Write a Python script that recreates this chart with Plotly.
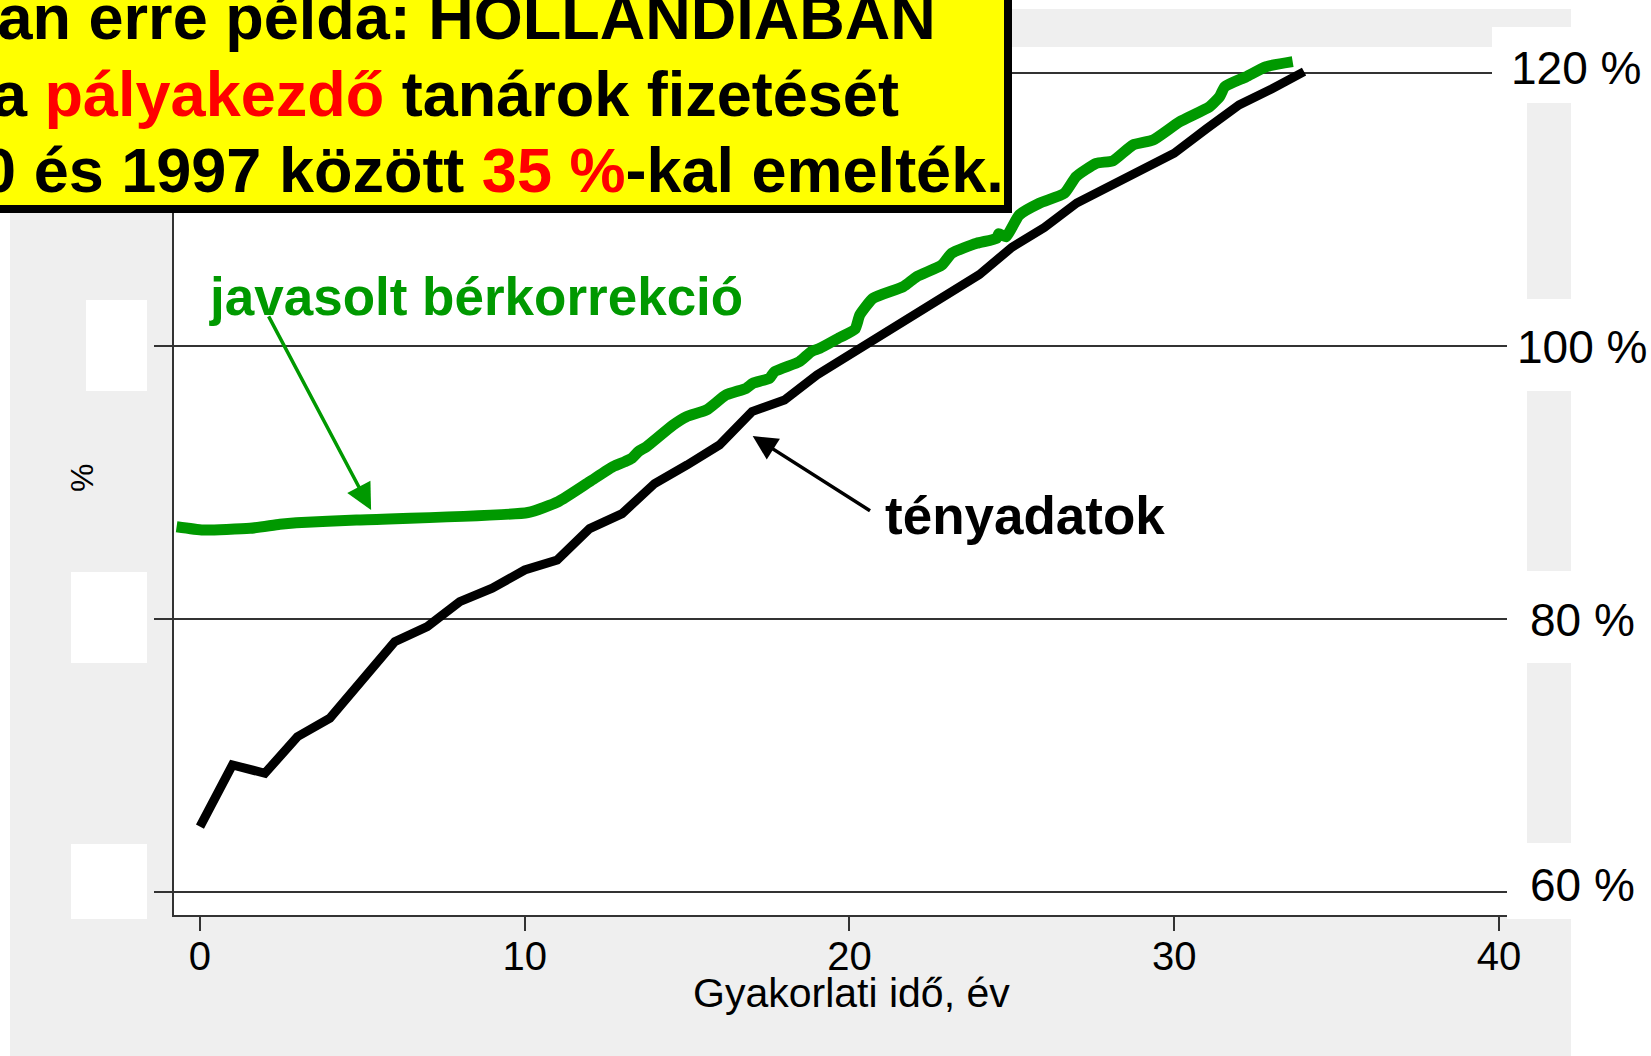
import plotly.graph_objects as go

# ---------------- data ----------------
years = list(range(0, 35))
actual_pct = [64.77, 69.29, 68.68, 71.36, 72.71, 75.51, 78.32, 79.42, 81.25, 82.23,
              83.57, 84.30, 86.60, 87.70, 89.90, 91.26, 92.73, 95.17, 96.02, 97.85,
              99.32, 100.85, 102.30, 103.60, 105.20, 107.20, 108.65, 110.45, 111.65, 112.95,
              114.09, 115.90, 117.63, 118.80, 120.07]

proposed_x = [-0.72, 0.1, 1.54, 2.46, 2.97, 4.82, 10.1, 11.03, 12.0, 12.72,
              13.08, 13.3, 13.5, 13.75, 14.57, 14.98, 15.6, 16.2, 16.82, 17.03,
              17.54, 17.69, 18.46, 18.82, 19.09, 19.7, 20.17, 20.32, 20.73, 21.66,
              22.07, 22.84, 23.15, 23.92, 24.53, 24.6, 24.82, 25.23, 25.85, 26.62,
              26.98, 27.6, 28.12, 28.73, 29.35, 30.17, 31.09, 31.4, 31.56, 32.22,
              32.83, 33.65]
proposed_pct = [86.74, 86.50, 86.62, 86.92, 87.03, 87.23, 87.78, 88.57, 90.04, 91.14,
                91.50, 91.75, 92.24, 92.60, 94.19, 94.80, 95.29, 96.39, 96.88, 97.25,
                97.61, 98.09, 98.83, 99.56, 99.81, 100.60, 101.20, 102.25, 103.47, 104.32,
                105.05, 105.90, 106.77, 107.50, 107.86, 108.20, 107.98, 109.57, 110.43, 111.16,
                112.38, 113.35, 113.55, 114.70, 115.06, 116.40, 117.50, 118.24, 118.97, 119.70,
                120.43, 120.80]

x_ticks = [0, 10, 20, 30, 40]
y_ticks = [60, 80, 100, 120]
y_tick_labels = ["60 %", "80 %", "100 %", "120 %"]

x_title = "Gyakorlati idő, év"
y_title = "%"
label_proposed = "javasolt bérkorrekció"
label_actual = "tényadatok"

# ---------------- layout geometry (pixels) ----------------
W, H = 1651, 1056
L, R, T, B = 174, 144, 47, 141
PW, PH = W - L - R, H - T - B


def px(x):
    return (x - L) / PW


def py(y):
    return (H - B - y) / PH


FONT = "Liberation Sans, Arial, Helvetica, sans-serif"
GREEN = "#009900"
GRAY = "#efefef"
AX = "#333333"

fig = go.Figure()
fig.add_trace(go.Scatter(x=years, y=actual_pct, mode="lines",
                         line=dict(color="black", width=9), showlegend=False))
fig.add_trace(go.Scatter(x=proposed_x, y=proposed_pct, mode="lines",
                         line=dict(color=GREEN, width=11, shape="spline", smoothing=0.5),
                         showlegend=False))

shapes = []


def rect(x0, y0, x1, y1, color, layer="below"):
    shapes.append(dict(type="rect", xref="paper", yref="paper",
                       x0=px(x0), x1=px(x1), y0=py(y1), y1=py(y0),
                       fillcolor=color, layer=layer, line=dict(width=0)))


# outer gray frame
rect(10, 9, 1571, 1060, GRAY)
# plot region
rect(174, 47, 1527, 915, "white")
# right label boxes
rect(1492, 27, 1660, 103, "white", layer="above")
rect(1507, 299, 1660, 391, "white")
rect(1507, 571, 1660, 663, "white")
rect(1507, 843, 1660, 919, "white")
# left (empty) label boxes
rect(86, 300, 147, 391, "white")
rect(71, 572, 147, 663, "white")
rect(71, 844, 147, 919, "white")
# yellow text box (above everything)
rect(-20, -20, 1012, 213, "black", layer="above")
rect(-20, -20, 1004, 205, "#ffff00", layer="above")

ann = []
# right-side y tick labels
label_pos = {120: (1576, 68), 100: (1582, 347), 80: (1582, 620), 60: (1582, 885)}
for v, t in zip(y_ticks, y_tick_labels):
    lx, ly = label_pos[v]
    ann.append(dict(xref="paper", yref="paper", x=px(lx), y=py(ly),
                    text=t, showarrow=False, xanchor="center", yanchor="middle",
                    font=dict(family=FONT, size=46, color="black")))
# axis titles
ann.append(dict(xref="paper", yref="paper", x=px(851), y=py(993), text=x_title,
                showarrow=False, xanchor="center", yanchor="middle",
                font=dict(family=FONT, size=41, color="black")))
ann.append(dict(xref="paper", yref="paper", x=px(82), y=py(478), text=y_title,
                showarrow=False, xanchor="center", yanchor="middle", textangle=-90,
                font=dict(family=FONT, size=32, color="black")))
# series labels
ann.append(dict(xref="paper", yref="paper", x=px(207), y=py(296), text="<b>" + label_proposed + "</b>",
                showarrow=False, xanchor="left", yanchor="middle",
                font=dict(family=FONT, size=53, color=GREEN)))
ann.append(dict(xref="paper", yref="paper", x=px(883), y=py(515), text="<b>" + label_actual + "</b>",
                showarrow=False, xanchor="left", yanchor="middle",
                font=dict(family=FONT, size=53, color="black")))
# arrows
ann.append(dict(xref="x", yref="y", axref="x", ayref="y", x=5.27, y=87.96, ax=2.09, ay=102.26,
                text="", showarrow=True, arrowhead=2, arrowsize=1.5, arrowwidth=3.5,
                arrowcolor=GREEN))
ann.append(dict(xref="x", yref="y", axref="x", ayref="y", x=17.02, y=93.38, ax=20.68, ay=87.84,
                text="", showarrow=True, arrowhead=2, arrowsize=1.4, arrowwidth=3.5,
                arrowcolor="black"))
# yellow box text
RED = "#ff0000"
box_lines = [
    (938, 17, "<b>Van erre példa: HOLLANDIÁBAN</b>"),
    (901, 94, "<b>a <span style='color:%s'>pályakezdő</span> tanárok fizetését</b>" % RED),
    (1006, 170, "<b>1990 és 1997 között <span style='color:%s'>35 %%</span>-kal emelték.</b>" % RED),
]
for xr, yc, t in box_lines:
    ann.append(dict(xref="paper", yref="paper", x=px(xr), y=py(yc), text=t,
                    showarrow=False, xanchor="right", yanchor="middle",
                    font=dict(family=FONT, size=63, color="black")))

fig.update_layout(
    width=W, height=H,
    margin=dict(l=L, r=R, t=T, b=B, pad=0),
    paper_bgcolor="white", plot_bgcolor="rgba(0,0,0,0)",
    shapes=shapes, annotations=ann, showlegend=False,
    xaxis=dict(range=[-0.8, 40.25], tickvals=x_ticks, ticks="outside", ticklen=14,
               tickwidth=2, tickcolor=AX, showline=True, linecolor=AX, linewidth=2,
               showgrid=False, zeroline=False, ticklabelstandoff=-9,
               tickfont=dict(family=FONT, size=40, color="black")),
    yaxis=dict(range=[58.3, 121.875], tickvals=y_ticks, showticklabels=False,
               ticks="outside", ticklen=18, tickwidth=2, tickcolor=AX,
               showline=True, linecolor=AX, linewidth=2,
               showgrid=True, gridcolor=AX, gridwidth=2, zeroline=False),
)

fig.write_html("out.html",
               config={"displayModeBar": False},
               post_script="document.body.style.margin='0';document.body.style.padding='0';"
                           "document.documentElement.style.overflow='hidden';")
